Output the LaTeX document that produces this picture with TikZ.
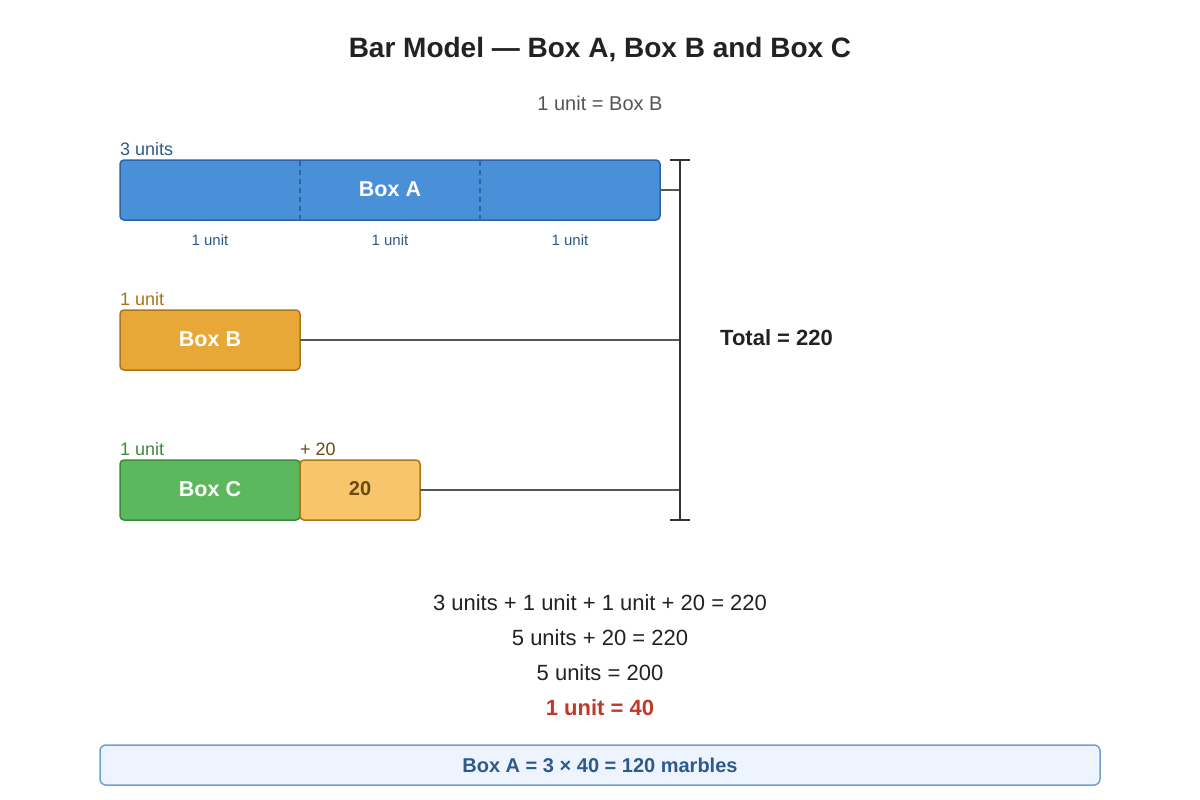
\documentclass[tikz,border=0pt]{standalone}
\usepackage{fontspec}
\setmainfont{Liberation Sans}
\begin{document}
\begin{tikzpicture}[x=1pt,y=-1pt,
  bar/.style={draw, line width=1.5pt, rounded corners=4pt, minimum height=60pt, inner sep=0pt, outer sep=0pt, anchor=north west},
  boxtxt/.style={font=\fontsize{21.5}{25}\selectfont\bfseries},
  lbl/.style={font=\fontsize{18}{22}\selectfont, anchor=base west, inner sep=0pt},
  small/.style={font=\fontsize{15}{18}\selectfont, text=unitblue, inner sep=0pt},
  conn/.style={draw=linegray, line width=1.5pt},
  eq/.style={font=\fontsize{22}{26}\selectfont, text=eqblack, inner sep=0pt}
]
\definecolor{ablue}{HTML}{4A90D9}
\definecolor{ablueb}{HTML}{2C64A8}
\definecolor{unitblue}{HTML}{2C5A8E}
\definecolor{borange}{HTML}{E8A838}
\definecolor{borangeb}{HTML}{AD7616}
\definecolor{otext}{HTML}{A87418}
\definecolor{cgreen}{HTML}{5CB85C}
\definecolor{cgreenb}{HTML}{3C8A3C}
\definecolor{gtext}{HTML}{3C8A3C}
\definecolor{lorange}{HTML}{F7C66C}
\definecolor{brown}{HTML}{6B4A10}
\definecolor{linegray}{HTML}{555555}
\definecolor{brk}{HTML}{333333}
\definecolor{eqblack}{HTML}{222222}
\definecolor{eqred}{HTML}{C0392B}
\definecolor{ansfill}{HTML}{EEF4FD}
\definecolor{ansdraw}{HTML}{6FA0D0}
\useasboundingbox (0,0) rectangle (1200,800);
\fill[white] (0,0) rectangle (1200,800);

\node[font=\fontsize{28}{33}\selectfont\bfseries, text=eqblack] (title) at (600,50) {Bar Model — Box A, Box B and Box C};
\node[font=\fontsize{20}{24}\selectfont, text=linegray] (sub) at (600,103) {1 unit = Box B};

% Box A
\node[bar, draw=ablueb, fill=ablue, minimum width=540pt] (A) at (120,160) {};
\draw[ablueb, line width=1.2pt, dash pattern=on 5pt off 4pt] (A.north west) ++(180,1) -- ++(0,58);
\draw[ablueb, line width=1.2pt, dash pattern=on 5pt off 4pt] (A.north west) ++(360,1) -- ++(0,58);
\node[boxtxt, text=white] (Atxt) at (390,189) {Box A};
\node[lbl, text=unitblue] (Al) at (120,155) {3 units};
\node[small] (u1) at (210,240) {1 unit};
\node[small] (u2) at (390,240) {1 unit};
\node[small] (u3) at (570,240) {1 unit};

% Box B
\node[bar, draw=borangeb, fill=borange, minimum width=180pt] (B) at (120,310) {};
\node[boxtxt, text=white] (Btxt) at (210,339) {Box B};
\node[lbl, text=otext] (Bl) at (120,305) {1 unit};

% Box C
\node[bar, draw=cgreenb, fill=cgreen, minimum width=180pt] (C) at (120,460) {};
\node[bar, draw=borangeb, fill=lorange, minimum width=120pt] (D) at (300,460) {};
\node[boxtxt, text=white] (Ctxt) at (210,489) {Box C};
\node[boxtxt, text=brown, font=\fontsize{20}{24}\selectfont\bfseries] (Dtxt) at (360,489) {20};
\node[lbl, text=gtext] (Cl) at (120,455) {1 unit};
\node[lbl, text=brown] (Dl) at (300,455) {+ 20};

% bracket
\coordinate (bt) at (680,160);
\coordinate (bb) at (680,520);
\coordinate (ba) at (680,190);
\coordinate (bbm) at (680,340);
\coordinate (bc) at (680,490);
\draw[conn] (A.east) -- (ba);
\draw[conn] (B.east) -- (bbm);
\draw[conn] (D.east) -- (bc);
\draw[brk, line width=2.2pt] (bt) -- (bb);
\draw[brk, line width=2.2pt] (670,160) -- (690,160);
\draw[brk, line width=2.2pt] (670,520) -- (690,520);
\node[font=\fontsize{22}{26}\selectfont\bfseries, text=eqblack, anchor=west, inner sep=0pt] (tot) at (720,338) {Total = 220};

% equations
\node[eq] (e1) at (600,603) {3 units + 1 unit + 1 unit + 20 = 220};
\node[eq] (e2) at (600,638) {5 units + 20 = 220};
\node[eq] (e3) at (600,673) {5 units = 200};
\node[eq, text=eqred, font=\fontsize{22}{26}\selectfont\bfseries] (e4) at (600,708) {1 unit = 40};

% answer
\node[draw=ansdraw, fill=ansfill, line width=1.5pt, rounded corners=6pt, minimum width=1000pt, minimum height=40pt, inner sep=0pt, outer sep=0pt, font=\fontsize{20}{24}\selectfont\bfseries, text=unitblue] (ans) at (600,765) {Box A = 3 × 40 = 120 marbles};
\end{tikzpicture}
\end{document}
